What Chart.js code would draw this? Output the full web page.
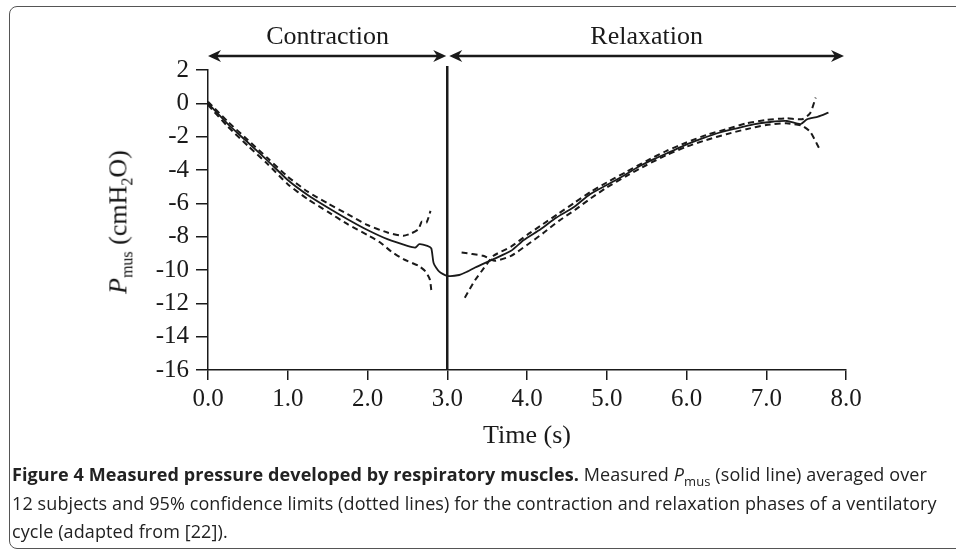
<!DOCTYPE html>
<html>
<head>
<meta charset="utf-8">
<script src="https://cdn.jsdelivr.net/npm/chart.js@4"></script>
<style>
  body { margin: 0; background: #fff; }
  #wrap { position: relative; width: 956px; height: 557px; overflow: hidden; }
  #frame { position: absolute; left: 9px; top: 6px; width: 980px; height: 541px;
           border: 1.5px solid #555; border-radius: 8px; }
  canvas { position: absolute; left: 0; top: 0; }
  #ytitle { position: absolute; left: 120px; top: 222px; transform: translate(-50%, -50%) rotate(-90deg);
            font-family: "Liberation Serif", serif; font-size: 26px; color: #111; white-space: nowrap; }
  #ytitle sub { font-size: 16px; }
  #caption { position: absolute; left: 12px; top: 460px; font-family: "Open Sans", sans-serif;
             font-size: 18px; letter-spacing: 0.1px; line-height: 28.5px; color: #222; white-space: nowrap; }
  #caption sub { font-size: 13px; line-height: 0; }
</style>
</head>
<body>
<div id="wrap">
  <div id="frame"></div>
  <canvas id="myChart" width="956" height="557"></canvas>
  <div id="ytitle"><i>P</i><sub>mus</sub> (cmH<sub>2</sub>O)</div>
  <div id="caption">
    <b>Figure 4 Measured pressure developed by respiratory muscles.</b> Measured <i>P</i><sub>mus</sub> (solid line) averaged over<br>
    12 subjects and 95% confidence limits (dotted lines) for the contraction and relaxation phases of a ventilatory<br>
    cycle (adapted from [22]).
  </div>
</div>
<script>
// mean Pmus (solid line)
var meanTime = [0, 0.25, 0.5, 0.75, 1.0, 1.25, 1.5, 1.75, 2.0, 2.25, 2.5, 2.6, 2.65, 2.75, 2.8, 2.83, 2.9, 3.0,
  3.15, 3.25, 3.35, 3.58, 3.8, 3.96, 4.17, 4.37, 4.58, 4.79, 5.0, 5.21, 5.42, 5.59, 5.8, 6.01, 6.2, 6.42, 6.63,
  6.84, 7.05, 7.26, 7.43, 7.51, 7.65, 7.78];
var meanP = [0, -1.25, -2.35, -3.45, -4.6, -5.5, -6.25, -6.95, -7.6, -8.15, -8.55, -8.65, -8.45, -8.55, -8.7, -9.6, -10.1, -10.35,
  -10.3, -10.1, -9.85, -9.35, -8.85, -8.2, -7.55, -6.85, -6.25, -5.45, -4.9, -4.35, -3.75, -3.35, -2.9, -2.45, -2.1, -1.75, -1.5,
  -1.26, -1.12, -1.06, -1.25, -0.96, -0.8, -0.56];

// 95% confidence limits, contraction phase
var upperContTime = [0, 0.25, 0.5, 0.75, 1.0, 1.25, 1.5, 1.75, 2.0, 2.25, 2.45, 2.55, 2.64, 2.68, 2.74, 2.79];
var upperContP = [0.1, -1.1, -2.2, -3.3, -4.4, -5.3, -6.0, -6.65, -7.3, -7.75, -7.95, -7.8, -7.55, -7.1, -7.15, -6.45];
var lowerContTime = [0, 0.25, 0.5, 0.75, 1.0, 1.25, 1.5, 1.75, 2.0, 2.16, 2.3, 2.45, 2.64, 2.72, 2.78, 2.8];
var lowerContP = [-0.1, -1.4, -2.55, -3.65, -4.85, -5.75, -6.5, -7.25, -7.9, -8.35, -8.9, -9.35, -9.75, -10.05, -10.55, -11.2];

// 95% confidence limits, relaxation phase
var relaxATime = [3.18, 3.45, 3.6, 3.8, 4.0, 4.2, 4.4, 4.6, 4.8, 5.0, 5.25, 5.5, 5.75, 6.0, 6.25, 6.5, 6.75, 7.0, 7.25, 7.45, 7.55, 7.66];
var relaxAP = [-8.95, -9.15, -9.45, -9.15, -8.5, -7.8, -7.05, -6.4, -5.7, -5.05, -4.35, -3.7, -3.1, -2.6, -2.2, -1.85, -1.55, -1.3, -1.2, -1.35, -1.7, -2.66];
var relaxBTime = [3.22, 3.35, 3.45, 3.58, 3.8, 4.0, 4.2, 4.4, 4.6, 4.8, 5.0, 5.25, 5.5, 5.75, 6.0, 6.25, 6.5, 6.75, 7.0, 7.25, 7.45, 7.55, 7.62];
var relaxBP = [-11.66, -10.6, -9.95, -9.15, -8.6, -7.9, -7.25, -6.6, -5.95, -5.3, -4.75, -4.1, -3.45, -2.85, -2.35, -1.9, -1.55, -1.2, -1.0, -0.9, -0.95, -0.6, 0.34];

// axes
var xTicks = [0, 1, 2, 3, 4, 5, 6, 7, 8];
var yTicks = [2, 0, -2, -4, -6, -8, -10, -12, -14, -16];
var phaseLabels = ["Contraction", "Relaxation"];
var phaseBounds = [0, 3, 8];

var ink = "#1a1a1a";
var serif = "'Liberation Serif', serif";

function pts(t, v) {
  var out = [];
  for (var i = 0; i < t.length; i++) out.push({ x: t[i], y: v[i] });
  return out;
}
function dashed(t, v) {
  return { data: pts(t, v), borderColor: ink, borderWidth: 2, borderDash: [6, 4], pointRadius: 0, tension: 0.2, fill: false };
}

function arrow(ctx, x1, x2, y) {
  var h = 13, w = 6;
  ctx.beginPath();
  ctx.moveTo(x1 + 4, y); ctx.lineTo(x2 - 4, y); ctx.stroke();
  [[x1, 1], [x2, -1]].forEach(function (a) {
    var x = a[0], d = a[1];
    ctx.beginPath();
    ctx.moveTo(x, y);
    ctx.lineTo(x + d * h, y - w);
    ctx.lineTo(x + d * (h - 4), y);
    ctx.lineTo(x + d * h, y + w);
    ctx.closePath();
    ctx.fill();
  });
}

var phasePlugin = {
  id: "phases",
  afterDatasetsDraw: function (chart) {
    var ctx = chart.ctx, xs = chart.scales.x, area = chart.chartArea;
    var xSplit = xs.getPixelForValue(phaseBounds[1]);
    ctx.save();
    ctx.strokeStyle = ink; ctx.fillStyle = ink;
    // phase divider
    ctx.lineWidth = 2.5;
    ctx.beginPath(); ctx.moveTo(xSplit, area.top - 4); ctx.lineTo(xSplit, area.bottom); ctx.stroke();
    // arrows + labels
    var ay = area.top - 14;
    ctx.lineWidth = 2.5;
    arrow(ctx, xs.getPixelForValue(phaseBounds[0]), xSplit - 1, ay);
    arrow(ctx, xSplit + 2, xs.getPixelForValue(phaseBounds[2]) - 2, ay);
    ctx.font = "26px " + serif;
    ctx.textAlign = "center"; ctx.textBaseline = "alphabetic";
    for (var i = 0; i < phaseLabels.length; i++) {
      var cx = (xs.getPixelForValue(phaseBounds[i]) + xs.getPixelForValue(phaseBounds[i + 1])) / 2;
      ctx.fillText(phaseLabels[i], cx, area.top - 26);
    }
    ctx.restore();
  }
};

new Chart("myChart", {
  type: "line",
  data: {
    datasets: [
      dashed(upperContTime, upperContP),
      dashed(lowerContTime, lowerContP),
      dashed(relaxATime, relaxAP),
      dashed(relaxBTime, relaxBP),
      { data: pts(meanTime, meanP), borderColor: ink, borderWidth: 1.8, pointRadius: 0, tension: 0.2, fill: false }
    ]
  },
  options: {
    responsive: false,
    animation: false,
    devicePixelRatio: 1,
    layout: { padding: { left: 148, top: 70, right: 110, bottom: 105 } },
    plugins: { legend: { display: false }, tooltip: { enabled: false } },
    scales: {
      x: {
        type: "linear", min: 0, max: 8,
        afterBuildTicks: function (s) { s.ticks = xTicks.map(function (v) { return { value: v }; }); },
        afterFit: function (s) { s.height = 82; },
        grid: { drawOnChartArea: false, drawTicks: true, tickLength: 10, color: ink, lineWidth: 1.5 },
        border: { display: true, color: ink, width: 1.5 },
        ticks: { color: ink, padding: 4, maxRotation: 0, font: { family: serif, size: 25 },
          callback: function (v) { return v.toFixed(1); } },
        title: { display: true, text: "Time (s)", color: ink, font: { family: serif, size: 26 }, padding: { top: 2, bottom: 0 } }
      },
      y: {
        type: "linear", min: -16, max: 2,
        afterBuildTicks: function (s) { s.ticks = yTicks.map(function (v) { return { value: v }; }); },
        afterFit: function (s) { s.width = 60; },
        grid: { drawOnChartArea: false, drawTicks: true, tickLength: 12, color: ink, lineWidth: 1.5 },
        border: { display: true, color: ink, width: 1.5 },
        ticks: { color: ink, padding: 7, font: { family: serif, size: 25 } }
      }
    }
  },
  plugins: [phasePlugin]
});
</script>
</body>
</html>
